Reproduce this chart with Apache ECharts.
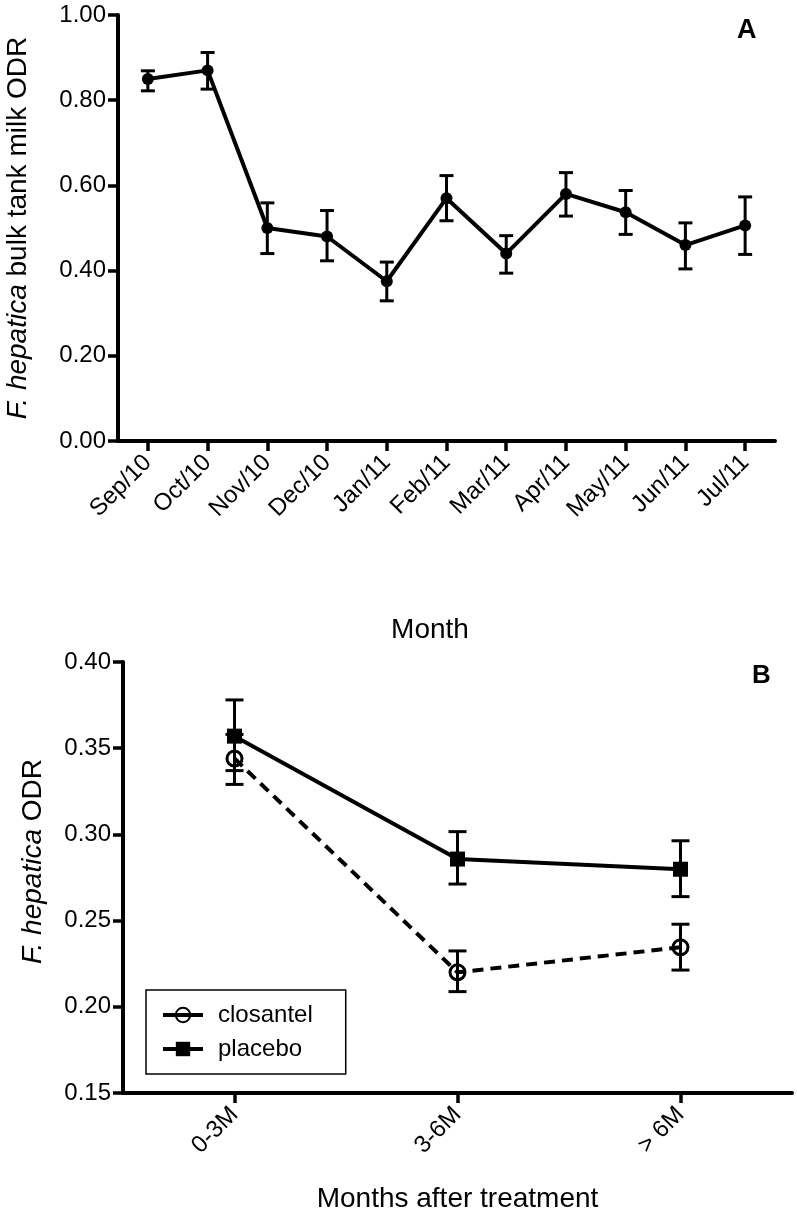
<!DOCTYPE html>
<html>
<head>
<meta charset="utf-8">
<script src="https://cdn.jsdelivr.net/npm/echarts@6/dist/echarts.min.js"></script>
<style>
  html, body { margin: 0; padding: 0; background: #fff; }
  #chart { width: 797px; height: 1217px; }
</style>
</head>
<body>
<div id="chart"></div>
<script>
// panel A: monthly bulk tank milk ODR
var months = ["Sep/10", "Oct/10", "Nov/10", "Dec/10", "Jan/11", "Feb/11", "Mar/11", "Apr/11", "May/11", "Jun/11", "Jul/11"];
var milkMean = [0.85, 0.87, 0.50, 0.48, 0.375, 0.57, 0.44, 0.58, 0.537, 0.46, 0.506];
var milkLow  = [0.822, 0.826, 0.44, 0.423, 0.329, 0.517, 0.394, 0.528, 0.485, 0.404, 0.438];
var milkHigh = [0.869, 0.912, 0.559, 0.541, 0.42, 0.623, 0.482, 0.63, 0.588, 0.512, 0.573];

// panel B: ODR after treatment
var periods = ["0-3M", "3-6M", "> 6M"];
var closantelMean = [0.344, 0.220, 0.2345];
var closantelLow  = [0.329, 0.2088, 0.2213];
var closantelHigh = [0.358, 0.2324, 0.2479];
var placeboMean = [0.357, 0.2857, 0.2798];
var placeboLow  = [0.337, 0.2712, 0.2639];
var placeboHigh = [0.378, 0.3016, 0.2963];

var FONT = "'Liberation Sans', Arial, sans-serif";

function toBars(low, high) {
  return low.map(function (v, i) { return [i, v, high[i]]; });
}

// draws vertical error bar with caps
function errorBar(capHalf) {
  return function (params, api) {
    var x = api.value(0);
    var lo = api.coord([x, api.value(1)]);
    var hi = api.coord([x, api.value(2)]);
    var st = { stroke: "#000", lineWidth: 3 };
    return {
      type: "group",
      children: [
        { type: "line", shape: { x1: lo[0], y1: lo[1], x2: hi[0], y2: hi[1] }, style: st },
        { type: "line", shape: { x1: lo[0] - capHalf, y1: lo[1], x2: lo[0] + capHalf, y2: lo[1] }, style: st },
        { type: "line", shape: { x1: hi[0] - capHalf, y1: hi[1], x2: hi[0] + capHalf, y2: hi[1] }, style: st }
      ]
    };
  };
}

var axisLine = { lineStyle: { color: "#000", width: 4 } };
var axisTick = { show: true, length: 10, lineStyle: { color: "#000", width: 3.5 } };

var chart = echarts.init(document.getElementById("chart"));
var option = {
  animation: false,
  backgroundColor: "#fff",
  textStyle: { fontFamily: FONT, color: "#000" },
  grid: [
    { left: 118, right: 22, top: 15, bottom: 776, outerBoundsMode: "none" },
    { left: 123, right: 5, top: 662, bottom: 124, outerBoundsMode: "none" }
  ],
  legend: {
    data: ["closantel", "placebo"],
    orient: "vertical",
    left: 146,
    top: 990,
    padding: [13, 33, 13, 15],
    itemGap: 10,
    itemWidth: 40,
    itemHeight: 18,
    borderColor: "#000",
    borderWidth: 1.5,
    lineStyle: { type: "solid", width: 4 },
    textStyle: { fontSize: 24, color: "#000", fontFamily: FONT, padding: [0, 0, 0, 10] }
  },
  xAxis: [
    {
      gridIndex: 0,
      type: "category",
      data: months,
      boundaryGap: true,
      axisLine: axisLine,
      axisTick: Object.assign({ alignWithLabel: true }, axisTick),
      axisLabel: { rotate: 45, fontSize: 24, color: "#000", margin: 18 },
      name: "Month",
      nameLocation: "middle",
      nameGap: 175,
      nameTextStyle: { fontSize: 28, color: "#000", padding: [0, 33, 0, 0] }
    },
    {
      gridIndex: 1,
      type: "category",
      data: periods,
      boundaryGap: true,
      axisLine: axisLine,
      axisTick: Object.assign({ alignWithLabel: true }, axisTick),
      axisLabel: { rotate: 45, fontSize: 24, color: "#000", margin: 18 },
      name: "Months after treatment",
      nameLocation: "middle",
      nameGap: 92,
      nameTextStyle: { fontSize: 28, color: "#000" }
    }
  ],
  yAxis: [
    {
      gridIndex: 0,
      type: "value",
      min: 0,
      max: 1,
      interval: 0.2,
      splitLine: { show: false },
      axisLine: Object.assign({ show: true }, axisLine),
      axisTick: axisTick,
      axisLabel: { fontSize: 24, color: "#000", margin: 12, formatter: function (v) { return v.toFixed(2); } },
      name: "{i|F. hepatica} bulk tank milk ODR",
      nameLocation: "middle",
      nameGap: 86,
      nameTextStyle: { fontSize: 28, color: "#000", rich: { i: { fontStyle: "italic", fontSize: 28, color: "#000" } } }
    },
    {
      gridIndex: 1,
      type: "value",
      min: 0.15,
      max: 0.40,
      interval: 0.05,
      splitLine: { show: false },
      axisLine: Object.assign({ show: true }, axisLine),
      axisTick: axisTick,
      axisLabel: { fontSize: 24, color: "#000", margin: 12, formatter: function (v) { return v.toFixed(2); } },
      name: "{i|F. hepatica} ODR",
      nameLocation: "middle",
      nameGap: 76,
      nameTextStyle: { fontSize: 28, color: "#000", padding: [0, 0, 0, 32], rich: { i: { fontStyle: "italic", fontSize: 28, color: "#000" } } }
    }
  ],
  graphic: [
    { type: "text", x: 737, y: 31, style: { text: "A", font: "bold 27px " + FONT, fill: "#000", textVerticalAlign: "middle" } },
    { type: "text", x: 752, y: 676, style: { text: "B", font: "bold 26px " + FONT, fill: "#000", textVerticalAlign: "middle" } }
  ],
  series: [
    {
      name: "milkErr",
      type: "custom",
      xAxisIndex: 0,
      yAxisIndex: 0,
      renderItem: errorBar(7),
      encode: { x: 0, y: [1, 2] },
      data: toBars(milkLow, milkHigh),
      silent: true
    },
    {
      name: "ODR",
      type: "line",
      xAxisIndex: 0,
      yAxisIndex: 0,
      data: milkMean,
      symbol: "circle",
      symbolSize: 12,
      itemStyle: { color: "#000" },
      lineStyle: { color: "#000", width: 4 },
      emphasis: { disabled: true },
      z: 3
    },
    {
      name: "closantelErr",
      type: "custom",
      xAxisIndex: 1,
      yAxisIndex: 1,
      renderItem: errorBar(9),
      encode: { x: 0, y: [1, 2] },
      data: toBars(closantelLow, closantelHigh),
      silent: true
    },
    {
      name: "placeboErr",
      type: "custom",
      xAxisIndex: 1,
      yAxisIndex: 1,
      renderItem: errorBar(9),
      encode: { x: 0, y: [1, 2] },
      data: toBars(placeboLow, placeboHigh),
      silent: true
    },
    {
      name: "closantel",
      type: "line",
      xAxisIndex: 1,
      yAxisIndex: 1,
      data: closantelMean,
      symbol: "circle",
      symbolSize: 15,
      itemStyle: { color: "rgba(255,255,255,0)", borderColor: "#000", borderWidth: 3 },
      lineStyle: { color: "#000", width: 4, type: [11, 7] },
      emphasis: { disabled: true },
      z: 3
    },
    {
      name: "placebo",
      type: "line",
      xAxisIndex: 1,
      yAxisIndex: 1,
      data: placeboMean,
      symbol: "rect",
      symbolSize: 15,
      itemStyle: { color: "#000" },
      lineStyle: { color: "#000", width: 4 },
      emphasis: { disabled: true },
      z: 4
    }
  ]
};
chart.setOption(option);
</script>
</body>
</html>
